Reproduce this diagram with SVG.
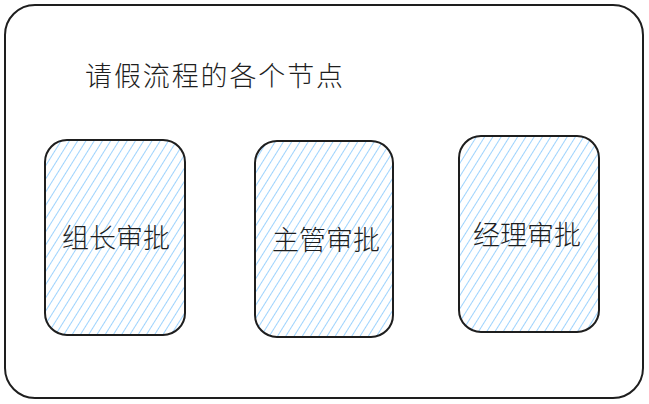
<svg xmlns="http://www.w3.org/2000/svg" width="649" height="404" viewBox="0 0 649 404">
<defs>
<pattern id="h" patternUnits="userSpaceOnUse" width="7" height="7" patternTransform="rotate(32)">
<line x1="0" y1="0" x2="0" y2="7" stroke="#74c0fc" stroke-width="1.4"/>
</pattern>
<style>
.b{fill:url(#h);stroke:#1e1e1e;stroke-width:2}
.t{font-family:"Noto Sans CJK SC","Noto Sans",sans-serif;font-size:27px;font-weight:300;fill:#1e1e1e;text-anchor:middle}
</style>
</defs>
<rect width="649" height="404" fill="#fff"/>
<g id="frame"><rect x="5" y="5" width="638" height="393" rx="30" fill="none" stroke="#1e1e1e" stroke-width="2"/></g>
<g id="title"><text x="85" y="86" style="font-family:'Noto Sans CJK SC',sans-serif;font-size:27px;font-weight:300;fill:#1e1e1e" textLength="258">请假流程的各个节点</text></g>
<g id="n1"><rect class="b" x="45" y="140" width="140" height="195" rx="22"/><text class="t" x="116" y="248">组长审批</text></g>
<g id="n2"><rect class="b" x="255" y="141" width="138" height="196" rx="22"/><text class="t" x="326" y="250">主管审批</text></g>
<g id="n3"><rect class="b" x="459" y="136" width="140" height="196" rx="22"/><text class="t" x="527" y="245">经理审批</text></g>
<g id="connectors"/>
</svg>
